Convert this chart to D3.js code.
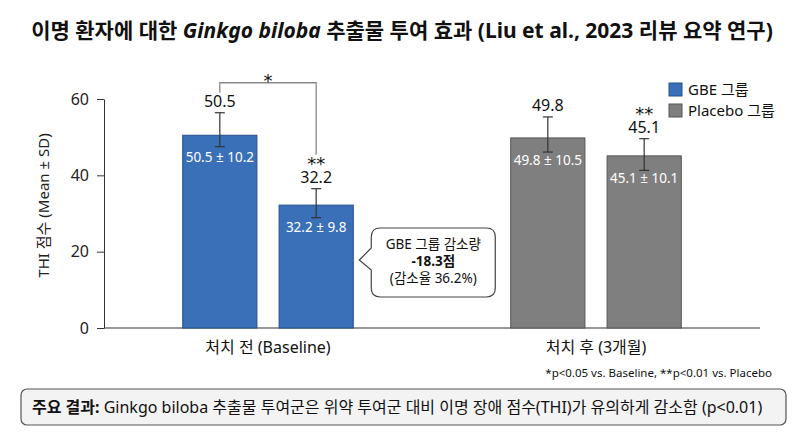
<!DOCTYPE html>
<html>
<head>
<meta charset="utf-8">
<script src="https://cdn.jsdelivr.net/npm/d3@7"></script>
<style>
  body { margin: 0; background: #fff; }
  svg { display: block; font-family: "Noto Sans", "Noto Sans CJK KR", sans-serif; }
</style>
</head>
<body>
<svg id="chart" width="800" height="436"></svg>
<script>
// chart values
var categories = ["처치 전 (Baseline)", "처치 후 (3개월)"];
var slots = ["a", "b"];
var means = [[50.5, 32.2], [49.8, 45.1]];
var sds = [[10.2, 9.8], [10.5, 10.1]];
var errLow = [[47.5, 28.9], [46.1, 41.3]];   // whisker ends as drawn
var errHigh = [[56.4, 36.5], [55.3, 49.6]];
var stars = [["", "**"], ["", "**"]];
var legendNames = ["GBE 그룹", "Placebo 그룹"];
var yTicks = [0, 20, 40, 60];
var calloutLines = ["GBE 그룹 감소량", "-18.3점", "(감소율 36.2%)"];

var fill = ["#3a70b8", "#7f7f7f"];
var edge = ["#22508c", "#555555"];

var svg = d3.select("#chart");

var x0 = d3.scaleBand()
    .domain(categories)
    .range([104, 760])
    .paddingInner(0.48)
    .paddingOuter(0.24);

var x1 = d3.scaleBand()
    .domain(slots)
    .range([0, x0.bandwidth()])
    .paddingInner(0.23);

var y = d3.scaleLinear()
    .domain([0, 60])
    .range([328, 99]);

// flatten bars
var bars = [];
categories.forEach(function(c, gi) {
    slots.forEach(function(s, si) {
        bars.push({ cat: c, gi: gi, slot: s, mean: means[gi][si], sd: sds[gi][si],
                    lo: errLow[gi][si], hi: errHigh[gi][si], star: stars[gi][si] });
    });
});
function bx(d) { return x0(d.cat) + x1(d.slot); }
function cx(d) { return bx(d) + x1.bandwidth() / 2; }

// title
var title = svg.append("text")
    .attr("x", 402)
    .attr("y", 38)
    .attr("text-anchor", "middle")
    .style("font-size", "21px")
    .style("font-weight", "bold")
    .style("fill", "#111");
title.append("tspan").text("이명 환자에 대한 ");
title.append("tspan").style("font-style", "italic").text("Ginkgo biloba");
title.append("tspan").text(" 추출물 투여 효과 (Liu et al., 2023 리뷰 요약 연구)");

// y axis
svg.append("g")
    .attr("transform", "translate(104,0)")
    .call(d3.axisLeft(y).tickValues(yTicks).tickSize(7).tickSizeOuter(0).tickPadding(8))
    .call(function(g) {
        g.selectAll("text").style("font-size", "16px").style("fill", "#222")
            .style("font-family", "\"Noto Sans\", sans-serif");
        g.selectAll("line, path").style("stroke", "#333");
    });

// x baseline
svg.append("line")
    .attr("x1", 104).attr("x2", 760)
    .attr("y1", y(0)).attr("y2", y(0))
    .style("stroke", "#333");

svg.append("text")
    .attr("transform", "translate(49," + (y(30) - 8) + ") rotate(-90)")
    .attr("text-anchor", "middle")
    .style("font-size", "15px")
    .style("fill", "#222")
    .text("THI 점수 (Mean ± SD)");

// bars
svg.selectAll(".bar")
    .data(bars)
    .enter().append("rect")
    .attr("class", "bar")
    .attr("x", bx)
    .attr("y", function(d) { return y(d.mean); })
    .attr("width", x1.bandwidth())
    .attr("height", function(d) { return y(0) - y(d.mean); })
    .style("fill", function(d) { return fill[d.gi]; })
    .style("stroke", function(d) { return edge[d.gi]; })
    .style("stroke-width", 1);

// error bars
var eb = svg.selectAll(".err")
    .data(bars)
    .enter().append("g")
    .attr("class", "err")
    .style("stroke", "#333")
    .style("stroke-width", 1.2);
eb.append("line")
    .attr("x1", cx).attr("x2", cx)
    .attr("y1", function(d) { return y(d.lo); })
    .attr("y2", function(d) { return y(d.hi); });
eb.append("line")
    .attr("x1", function(d) { return cx(d) - 5; })
    .attr("x2", function(d) { return cx(d) + 5; })
    .attr("y1", function(d) { return y(d.hi); })
    .attr("y2", function(d) { return y(d.hi); });
eb.append("line")
    .attr("x1", function(d) { return cx(d) - 5; })
    .attr("x2", function(d) { return cx(d) + 5; })
    .attr("y1", function(d) { return y(d.lo); })
    .attr("y2", function(d) { return y(d.lo); });

// value labels above
svg.selectAll(".val")
    .data(bars)
    .enter().append("text")
    .attr("class", "val")
    .attr("x", cx)
    .attr("y", function(d) { return y(d.hi) - 6; })
    .attr("text-anchor", "middle")
    .style("font-size", "16px")
    .style("fill", "#111")
    .text(function(d) { return d.mean.toFixed(1); });

svg.selectAll(".star")
    .data(bars.filter(function(d) { return d.star; }))
    .enter().append("text")
    .attr("class", "star")
    .attr("x", cx)
    .attr("y", function(d) { return y(d.hi) - 19; })
    .attr("text-anchor", "middle")
    .style("font-size", "18px")
    .style("font-family", "\"DejaVu Sans\", sans-serif")
    .style("fill", "#111")
    .text(function(d) { return d.star; });

// in-bar labels
svg.selectAll(".inlab")
    .data(bars)
    .enter().append("text")
    .attr("class", "inlab")
    .attr("x", cx)
    .attr("y", function(d) { return y(d.mean) + 27; })
    .attr("text-anchor", "middle")
    .style("font-size", "13.5px")
    .style("fill", "#fff")
    .text(function(d) { return d.mean.toFixed(1) + " ± " + d.sd.toFixed(1); });

// significance bracket between the two baseline bars
var bA = bars[0], bB = bars[1];
var brTop = y(bA.hi) - 30;
svg.append("path")
    .attr("d", "M" + cx(bA) + "," + (y(bA.hi) - 20) + "V" + brTop + "H" + cx(bB) + "V" + (y(bB.hi) - 34))
    .style("fill", "none")
    .style("stroke", "#888")
    .style("stroke-width", 1.3);
svg.append("text")
    .attr("x", (cx(bA) + cx(bB)) / 2)
    .attr("y", brTop + 4)
    .attr("text-anchor", "middle")
    .style("font-size", "18px")
    .style("font-family", "\"DejaVu Sans\", sans-serif")
    .style("fill", "#111")
    .text("*");

// callout box
var tipX = bx(bB) + x1.bandwidth() + 6, tipY = 260;
var bxL = tipX + 12, bxR = bxL + 124, bxT = 228, bxB = 297, r = 9;
var cp = "M" + (bxL + r) + "," + bxT +
    "H" + (bxR - r) + "Q" + bxR + "," + bxT + " " + bxR + "," + (bxT + r) +
    "V" + (bxB - r) + "Q" + bxR + "," + bxB + " " + (bxR - r) + "," + bxB +
    "H" + (bxL + r) + "Q" + bxL + "," + bxB + " " + bxL + "," + (bxB - r) +
    "V" + (tipY + 10) + "L" + tipX + "," + tipY + "L" + bxL + "," + (tipY - 12) +
    "V" + (bxT + r) + "Q" + bxL + "," + bxT + " " + (bxL + r) + "," + bxT + "Z";
svg.append("path")
    .attr("d", cp)
    .style("fill", "#fff")
    .style("stroke", "#444")
    .style("stroke-width", 1.2);
svg.selectAll(".callout")
    .data(calloutLines)
    .enter().append("text")
    .attr("class", "callout")
    .attr("x", (bxL + bxR) / 2)
    .attr("y", function(d, i) { return 249 + i * 17; })
    .attr("text-anchor", "middle")
    .style("font-size", "13.5px")
    .style("font-weight", function(d, i) { return i === 1 ? "bold" : "normal"; })
    .style("fill", "#111")
    .text(function(d) { return d; });

// group labels
svg.selectAll(".cat")
    .data(categories)
    .enter().append("text")
    .attr("class", "cat")
    .attr("x", function(d) { return x0(d) + x0.bandwidth() / 2; })
    .attr("y", 353)
    .attr("text-anchor", "middle")
    .style("font-size", "16px")
    .style("fill", "#111")
    .text(function(d) { return d; });

// legend
var legend = svg.append("g").attr("transform", "translate(669,83)");
legendNames.forEach(function(n, i) {
    legend.append("rect")
        .attr("y", i * 21)
        .attr("width", 13).attr("height", 13)
        .style("fill", fill[i])
        .style("stroke", edge[i]);
    legend.append("text")
        .attr("x", 19)
        .attr("y", i * 21 + 12)
        .style("font-size", "15px")
        .style("fill", "#111")
        .text(n);
});

// footnote
svg.append("text")
    .attr("x", 772)
    .attr("y", 377)
    .attr("text-anchor", "end")
    .style("font-size", "11.5px")
    .style("fill", "#111")
    .text("*p<0.05 vs. Baseline, **p<0.01 vs. Placebo");

// summary box
svg.append("rect")
    .attr("x", 21).attr("y", 389)
    .attr("width", 765).attr("height", 36)
    .attr("rx", 6)
    .style("fill", "#f3f3f3")
    .style("stroke", "#555")
    .style("stroke-width", 1.2);
var summary = svg.append("text")
    .attr("x", 32)
    .attr("y", 413)
    .style("font-size", "16px")
    .style("fill", "#111");
summary.append("tspan").style("font-weight", "bold").text("주요 결과:");
summary.append("tspan").text(" Ginkgo biloba 추출물 투여군은 위약 투여군 대비 이명 장애 점수(THI)가 유의하게 감소함 (p<0.01)");
</script>
</body>
</html>
